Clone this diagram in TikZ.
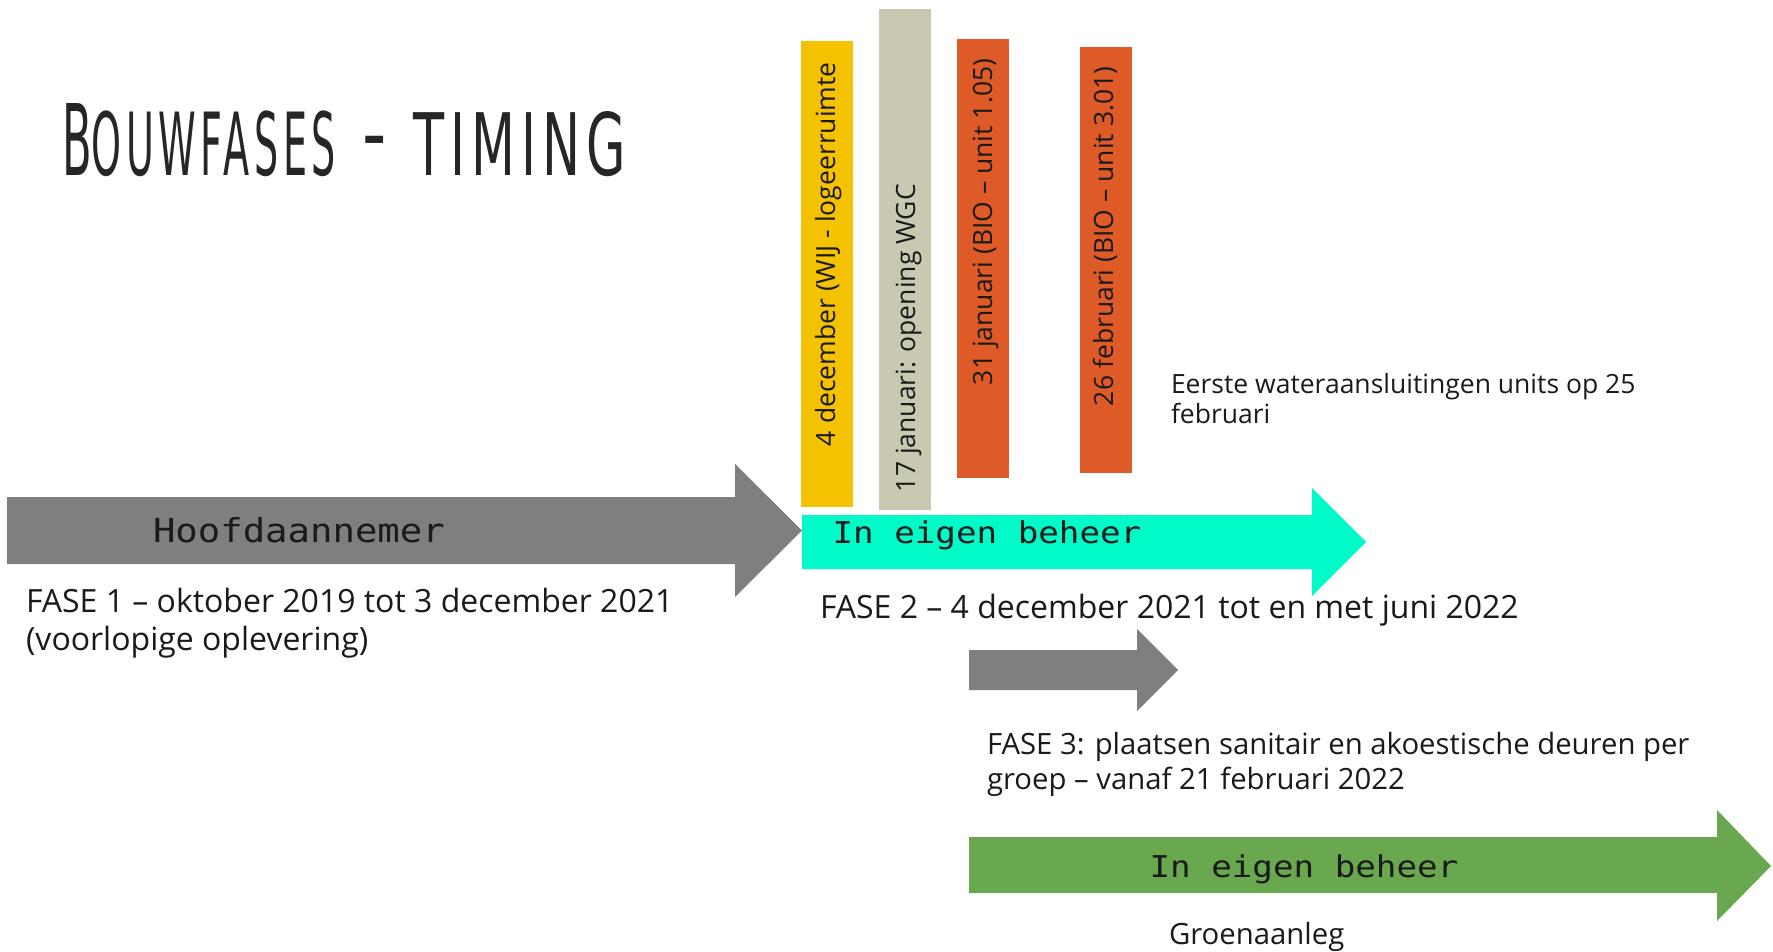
\documentclass[tikz,border=0pt]{standalone}
\usepackage{fontspec}
\setmainfont{Open Sans}
\newfontfamily\labelmono{DejaVu Sans Mono}
\newfontfamily\titlesans{DejaVu Sans}[LetterSpace=12]
\newfontfamily\dashsans{DejaVu Sans}
\definecolor{ink}{HTML}{1A1A1A}
\definecolor{titleink}{HTML}{262626}
\definecolor{arrowgray}{HTML}{7F7F7F}
\definecolor{baryellow}{HTML}{F4C200}
\definecolor{barbeige}{HTML}{C9C8B0}
\definecolor{barorange}{HTML}{DE5A26}
\definecolor{arrowcyan}{HTML}{00FAC8}
\definecolor{arrowgreen}{HTML}{6AA84F}
\tikzset{
  txt/.style={inner sep=0pt, outer sep=0pt, text=ink},
  fasetext/.style={txt, anchor=base west, font=\fontsize{32}{33}\selectfont},
  smalltext/.style={txt, anchor=base west, font=\fontsize{29.3}{30}\selectfont},
  notetext/.style={txt, anchor=base west, font=\fontsize{26.5}{28}\selectfont},
  barlabel/.style={txt, anchor=base west, rotate=90, font=\fontsize{26.5}{28}\selectfont},
  monolabel/.style={txt, anchor=base west, font=\labelmono\fontsize{30}{30}\selectfont},
  titletext/.style={inner sep=0pt, outer sep=0pt, text=titleink, anchor=base west, font=\titlesans},
}
\begin{document}
\begin{tikzpicture}[x=1pt,y=-1pt]
\useasboundingbox (0,0) rectangle (1773,952);

% title
\node[titletext] (titleA) at (62,175.5)
  {\resizebox{274pt}{72pt}{\fontsize{110}{110}\selectfont B\fontsize{97}{97}\selectfont OUWFASES}};
\node[titletext, anchor=base, font=\dashsans\fontsize{90}{90}\selectfont] (titleDash) at (375,164.5)
  {\scalebox{0.75}[1]{-}};
\node[titletext] (titleB) at (413,176)
  {\resizebox{213pt}{64pt}{\fontsize{97}{97}\selectfont TIMING}};

% milestone bars
\fill[baryellow] (801,41) rectangle (853,507);
\fill[barbeige] (879,9) rectangle (931,510);
\fill[barorange] (957,39) rectangle (1009,478);
\fill[barorange] (1080,47) rectangle (1132,473);
\node[barlabel] (bar1) at (835,446) {4 december (WIJ - logeerruimte};
\node[barlabel] (bar2) at (915,492) {17 januari: opening WGC};
\node[barlabel] (bar3) at (992,385) {31 januari (BIO -- unit 1.05)};
\node[barlabel] (bar4) at (1113,406) {26 februari (BIO -- unit 3.01)};

\node[notetext] (note1) at (1171,393) {Eerste wateraansluitingen units op 25};
\node[notetext] (note2) at (1171,423) {februari};

% phase 1 arrow
\fill[arrowgray] (7,497) -- (735,497) -- (735,464) -- (802,530.5) -- (735,597)
  -- (735,564) -- (7,564) -- cycle;
\node[monolabel, font=\labelmono\fontsize{33}{33}\selectfont] (lab1) at (153,542)
  {\scalebox{1.13}[1]{Hoofdaannemer}};
\node[fasetext] (fase1a) at (26,612) {FASE 1 -- oktober 2019 tot 3 december 2021};
\node[fasetext] (fase1b) at (26,650) {(voorlopige oplevering)};

% phase 2 arrow
\fill[arrowcyan] (802,515) -- (1312,515) -- (1312,488) -- (1366,542) -- (1312,596)
  -- (1312,569) -- (802,569) -- cycle;
\node[monolabel] (lab2) at (832.5,543) {\scalebox{1.14}[1]{In eigen beheer}};
\node[fasetext] (fase2) at (820,618) {FASE 2 -- 4 december 2021 tot en met juni 2022};

% phase 3 arrow
\fill[arrowgray] (969,650) -- (1137,650) -- (1137,629) -- (1178,670) -- (1137,711)
  -- (1137,690) -- (969,690) -- cycle;
\node[smalltext] (fase3a) at (987,754) {FASE 3: plaatsen sanitair en akoestische deuren per};
\node[smalltext] (fase3b) at (987,789) {groep -- vanaf 21 februari 2022};

% green arrow
\fill[arrowgreen] (969,837) -- (1717,837) -- (1717,810) -- (1771,866) -- (1717,921)
  -- (1717,893) -- (969,893) -- cycle;
\node[monolabel] (lab3) at (1149.5,877) {\scalebox{1.14}[1]{In eigen beheer}};
\node[smalltext] (groen) at (1169,944) {Groenaanleg};
\end{tikzpicture}
\end{document}
